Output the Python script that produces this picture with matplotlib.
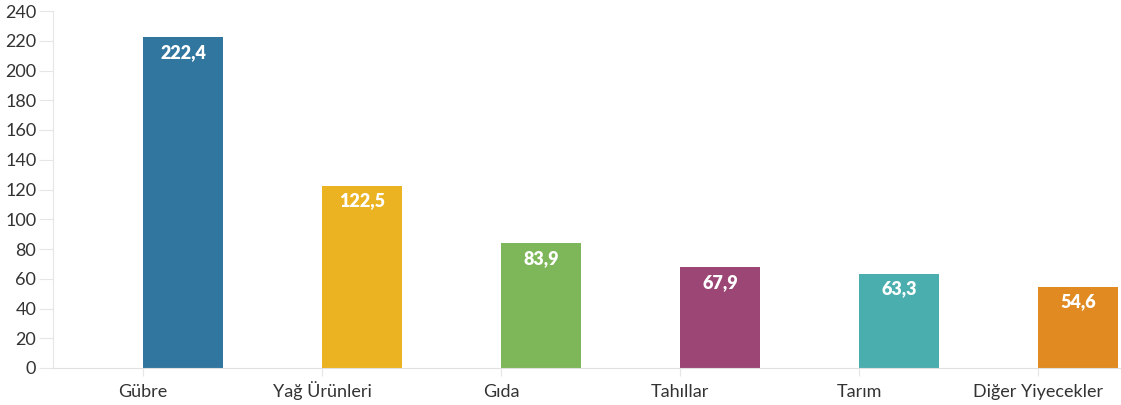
import matplotlib.pyplot as plt

plt.rcParams['font.family'] = ['Lato', 'DejaVu Sans']

categories = ['Gübre', 'Yağ Ürünleri', 'Gıda', 'Tahıllar', 'Tarım', 'Diğer Yiyecekler']
values = [222.4, 122.5, 83.9, 67.9, 63.3, 54.6]
labels = ['222,4', '122,5', '83,9', '67,9', '63,3', '54,6']
colors = ['#31769f', '#ebb321', '#7eb65a', '#9b4674', '#4aaeae', '#e08a21']

fig = plt.figure(figsize=(11.21, 4.05), dpi=100)
ax = fig.add_axes([53 / 1121, 37 / 405, 1 - 53 / 1121, 357 / 405])

x = list(range(len(categories)))
width = 80 / 179
bars = ax.bar(x, values, width=width, color=colors, zorder=2)

for b, lab in zip(bars, labels):
    ax.text(b.get_x() + b.get_width() / 2, b.get_height() - 4.5, lab,
            ha='center', va='top', color='white', fontsize=13, fontweight='heavy')

ax.set_xlim(-130 / 179, 938 / 179)
ax.set_ylim(0, 240)
ax.set_yticks(range(0, 241, 20))
ax.tick_params(axis='y', length=10, color='#e6e6e6', labelsize=13, labelcolor='#333333', pad=2)

# category ticks and labels sit at the left edge of each bar
ticks = [i - width / 2 for i in x]
ax.set_xticks(ticks)
ax.set_xticklabels(categories)
ax.tick_params(axis='x', length=6, color='#e6e6e6', labelsize=13, labelcolor='#333333', pad=15)
for t in ax.get_xticklabels():
    t.set_verticalalignment('baseline')

for s in ['top', 'right']:
    ax.spines[s].set_visible(False)
ax.spines['left'].set_color('#e6e6e6')
ax.spines['bottom'].set_color('#e0e0e0')

fig.savefig('out.png', dpi=100)
